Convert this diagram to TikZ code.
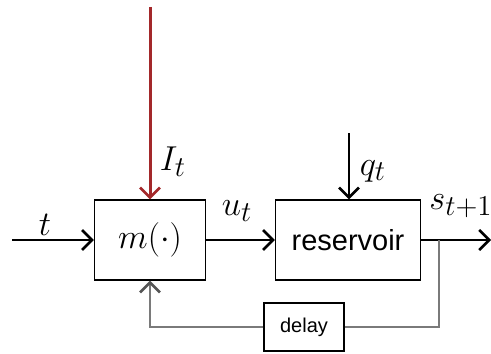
\documentclass[tikz,border=0pt]{standalone}
\usepackage{fontspec}
\newfontfamily\arialfont{Liberation Sans}
\usepackage{tikz}
\usetikzlibrary{arrows.meta,positioning}
\definecolor{Rojo}{HTML}{A3282A}
\definecolor{Gris}{HTML}{7A7A7A}
\definecolor{GrisOscuro}{HTML}{555555}

\begin{document}
\begin{tikzpicture}[
  x=0.5pt,y=-0.5pt,
  every node/.style={font=\fontsize{19}{22}\selectfont},
  bloque/.style={draw,line width=0.6pt,inner sep=0pt},
  flecha/.style={line width=0.75pt,-{Straight Barb[length=5pt,width=10pt,line width=1.3pt]}},
  retro/.style={line width=0.65pt,draw=Gris}
]
  \useasboundingbox (0,0) rectangle (491,353);

  % Bloques principales.
  \node[bloque,minimum width=55.5pt,minimum height=40pt] (m) at (150,240) {$m(\cdot)$};
  \node[bloque,minimum width=72.5pt,minimum height=40pt,font=\arialfont\fontsize{14.5}{16}\selectfont]
    (res) at (348,240) {reservoir};
  \node[bloque,minimum width=40pt,minimum height=24pt,font=\arialfont\fontsize{10}{12}\selectfont]
    (delay) at (304,327) {delay};

  \coordinate (tin) at (12,240);
  \coordinate (Itop) at (150,7);
  \coordinate (qtop) at (349,133);
  \coordinate (sout) at (491,240);
  \coordinate (split) at (439,240);

  % Entradas y salida.
  \draw[flecha] (tin) -- (m.west);
  \draw[flecha,Rojo,line width=1.5pt] (Itop) -- (m.north);
  \draw[flecha] (m.east) -- (res.west);
  \draw[flecha] (qtop) -- (res.north -| qtop);
  \draw[flecha] (res.east) -- (sout);

  % Lazo de realimentacion.
  \draw[retro] (split) |- (delay.east);
  \draw[retro,-{Straight Barb[length=5pt,width=10pt,line width=1.3pt,color=GrisOscuro]}]
    (delay.west) -| (m.south);

  \node (lt) at (45,225) {$t$};
  \node (lI) at (173,162) {$I_t$};
  \node (lu) at (237,211) {$u_t$};
  \node (lq) at (373,171) {$q_t$};
  \node (ls) at (461,206) {$s_{t+1}$};
\end{tikzpicture}
\end{document}
